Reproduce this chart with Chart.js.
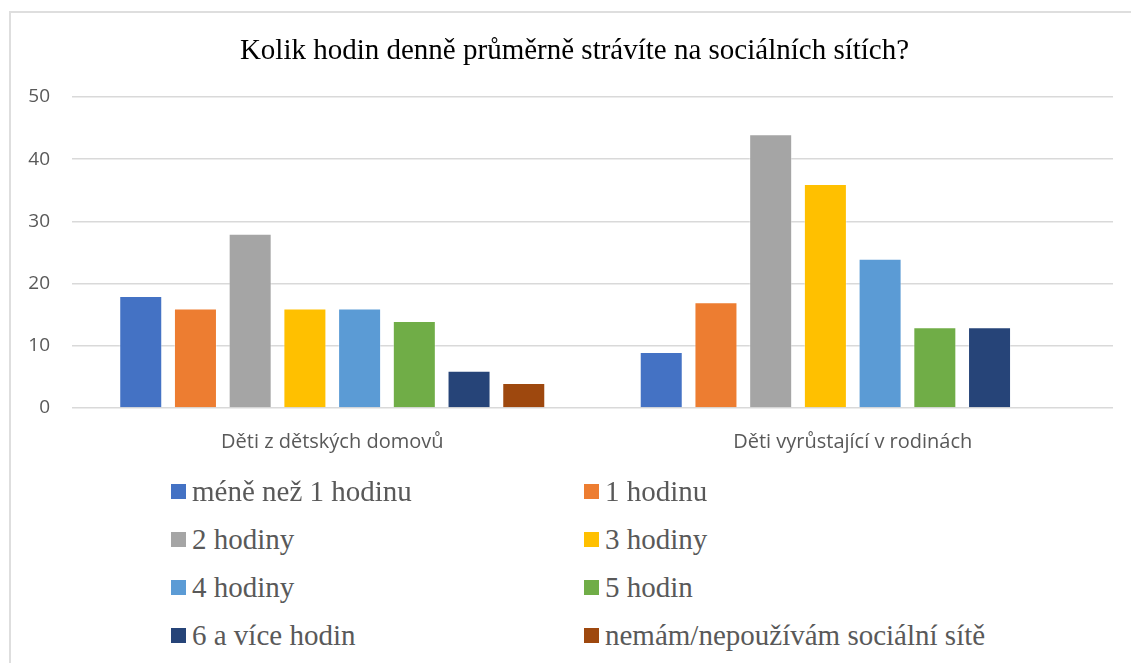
<!DOCTYPE html>
<html>
<head>
<meta charset="utf-8">
<script src="https://cdn.jsdelivr.net/npm/chart.js@4.4.1/dist/chart.umd.min.js"></script>
<style>
  html, body { margin: 0; padding: 0; background: #fff; overflow: hidden; }
  #frame {
    position: absolute; left: 9px; top: 11px; width: 1200px; height: 700px;
    border-left: 2px solid #dedede; border-top: 2px solid #dedede;
  }
  #chart { position: absolute; left: 0; top: 0; }
  #title {
    position: absolute; left: 0; top: 33px; width: 1149px; text-align: center;
    font-family: "Liberation Serif", "Times New Roman", serif;
    font-size: 29px; line-height: 32px; color: #000; white-space: nowrap;
  }
  .item {
    position: absolute; display: flex; align-items: center;
    font-family: "Liberation Serif", "Times New Roman", serif;
    font-size: 29px; color: #595959; white-space: nowrap; height: 30px;
  }
  .item i { display: inline-block; width: 15px; height: 15px; margin-right: 6px; }
</style>
</head>
<body>
<div id="frame"></div>
<canvas id="chart" width="1131" height="479"></canvas>
<div id="title"></div>
<div id="legend"></div>
<script>
const title = 'Kolik hodin denně průměrně strávíte na sociálních sítích?';
const groups = ['Děti z dětských domovů', 'Děti vyrůstající v rodinách'];
const series = ['méně než 1 hodinu', '1 hodinu', '2 hodiny', '3 hodiny',
  '4 hodiny', '5 hodin', '6 a více hodin', 'nemám/nepoužívám sociální sítě'];
const colors = ['#4472C4', '#ED7D31', '#A5A5A5', '#FFC000',
  '#5B9BD5', '#70AD47', '#264478', '#9E480E'];

const lessThan1 = [18, 9];
const oneHour = [16, 17];
const twoHours = [28, 44];
const threeHours = [16, 36];
const fourHours = [16, 24];
const fiveHours = [14, 13];
const sixPlus = [6, 13];
const noSocial = [4, null];
const values = [lessThan1, oneHour, twoHours, threeHours, fourHours, fiveHours, sixPlus, noSocial];

const yTicks = [0, 10, 20, 30, 40, 50];

document.getElementById('title').textContent = title;

const chart = new Chart(document.getElementById('chart').getContext('2d'), {
  type: 'bar',
  data: {
    labels: groups,
    datasets: series.map((name, i) => ({
      label: name,
      data: values[i],
      backgroundColor: colors[i],
      borderColor: 'rgba(255,255,255,0.35)',
      borderWidth: 1,
      categoryPercentage: 0.841,
      barPercentage: 0.786
    }))
  },
  options: {
    responsive: false,
    animation: false,
    layout: { padding: { left: 10, right: 18, top: 97, bottom: 11 } },
    plugins: {
      legend: { display: false },
      tooltip: { enabled: false },
      title: { display: false }
    },
    scales: {
      x: {
        grid: { display: false },
        border: { display: false },
        ticks: {
          color: '#595959',
          padding: 14,
          font: { family: '"Open Sans", sans-serif', size: 20 }
        }
      },
      y: {
        min: yTicks[0],
        max: yTicks[yTicks.length - 1],
        afterFit: s => { s.width = 62; },
        afterBuildTicks: s => { s.ticks = yTicks.map(v => ({ value: v })); },
        grid: { color: '#d9d9d9', lineWidth: 1.5, drawTicks: false },
        border: { display: false },
        ticks: {
          color: '#595959',
          padding: 22,
          font: { family: '"Open Sans", sans-serif', size: 19 }
        }
      }
    }
  }
});

// two-column legend built from the chart's datasets
const legend = document.getElementById('legend');
chart.data.datasets.forEach((ds, i) => {
  const el = document.createElement('div');
  el.className = 'item';
  el.style.left = (i % 2 ? 584 : 171) + 'px';
  el.style.top = (476 + Math.floor(i / 2) * 48.3) + 'px';
  const box = document.createElement('i');
  box.style.background = ds.backgroundColor;
  el.appendChild(box);
  el.appendChild(document.createTextNode(ds.label));
  legend.appendChild(el);
});
</script>
</body>
</html>
